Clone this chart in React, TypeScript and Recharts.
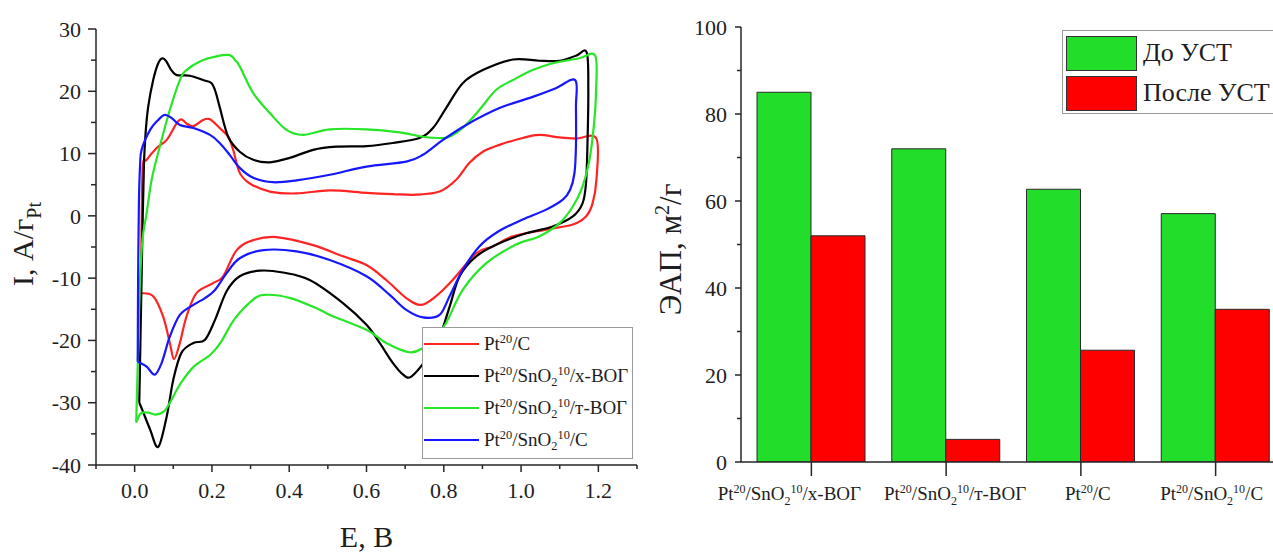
import React from 'react'
import { LineChart, Line, XAxis, YAxis, BarChart, Bar, Legend, Label } from 'recharts'

const FONT = '"Liberation Serif", "Times New Roman", serif'
const AXIS = '#262626'
const TEXT = '#1e1e1e'

// CV loops: [E, V ; I, A/g Pt], traced from the low-potential end, anodic then cathodic
const cvPtC = [
  [0.016, -12.4], [0.018, -2], [0.021, 7.9], [0.031, 9.0], [0.057, 10.9], [0.083, 12.2], [0.109, 14.9],
  [0.121, 15.5], [0.135, 14.8], [0.152, 14.4], [0.177, 15.4], [0.195, 15.5], [0.22, 14.1], [0.242, 12.7],
  [0.255, 10.6], [0.272, 6.9], [0.298, 5.2], [0.35, 3.9], [0.419, 3.6], [0.505, 4.1], [0.6, 3.7],
  [0.668, 3.5], [0.729, 3.4], [0.789, 3.9], [0.832, 5.8], [0.866, 8.5], [0.901, 10.3], [0.944, 11.4],
  [1.004, 12.5], [1.047, 13.0], [1.099, 12.6], [1.142, 12.4], [1.195, 12.4], [1.195, 5.8], [1.185, 2.0],
  [1.168, -0.1], [1.134, -1.4], [1.065, -2.2], [0.979, -3.3], [0.927, -4.9], [0.884, -6.0], [0.823, -10.3],
  [0.78, -12.9], [0.742, -14.3], [0.703, -13.2], [0.651, -10.3], [0.6, -7.9], [0.539, -6.5], [0.462, -4.7],
  [0.367, -3.4], [0.307, -3.9], [0.264, -5.5], [0.229, -9.7], [0.203, -10.8], [0.16, -12.4], [0.134, -16.2],
  [0.117, -20.4], [0.102, -23.0], [0.091, -20.4], [0.074, -16.2], [0.048, -12.9], [0.016, -12.4],
]

const cvXGO = [
  [0.012, -30], [0.015, -20], [0.018, -10], [0.021, 0], [0.024, 8], [0.028, 13], [0.035, 17.5], [0.048, 21.8],
  [0.061, 24.5], [0.072, 25.3], [0.082, 24.8], [0.095, 23.4], [0.109, 22.6], [0.143, 22.5], [0.177, 21.8],
  [0.199, 21.3], [0.21, 19.8], [0.22, 17.5], [0.242, 12.7], [0.272, 10.3], [0.307, 9.0], [0.35, 8.6],
  [0.401, 9.3], [0.462, 10.6], [0.522, 11.1], [0.6, 11.2], [0.668, 11.7], [0.737, 12.5], [0.772, 14.1],
  [0.806, 17.3], [0.849, 21.3], [0.901, 23.4], [0.979, 25.1], [1.047, 24.9], [1.099, 24.9], [1.142, 25.7],
  [1.17, 26.2], [1.174, 20], [1.172, 12], [1.168, 5.2], [1.159, 2.0], [1.134, -0.1], [1.082, -1.7],
  [1.013, -2.8], [0.944, -4.4], [0.884, -6.5], [0.841, -9.7], [0.815, -14.6], [0.789, -19.4], [0.754, -23.1],
  [0.716, -25.8], [0.695, -25.5], [0.668, -23.6], [0.634, -20.4], [0.6, -17.5], [0.539, -14.0], [0.453, -10.3],
  [0.384, -9.1], [0.324, -8.8], [0.272, -9.7], [0.238, -12.1], [0.208, -16.7], [0.182, -19.9], [0.152, -20.4],
  [0.121, -22.0], [0.1, -26.3], [0.083, -32.2], [0.061, -37.1], [0.04, -34.3], [0.022, -31.5], [0.012, -30],
]

const cvTGO = [
  [0.004, -33.2], [0.008, -24], [0.013, -12], [0.02, -4], [0.031, 0.4], [0.044, 5.8], [0.065, 11.1],
  [0.091, 17.0], [0.117, 21.8], [0.134, 23.4], [0.169, 24.8], [0.212, 25.6], [0.246, 25.8], [0.26, 25],
  [0.272, 24.0], [0.307, 19.7], [0.35, 16.5], [0.393, 13.8], [0.436, 13.0], [0.505, 13.9], [0.6, 13.9],
  [0.686, 13.4], [0.746, 12.7], [0.789, 12.5], [0.815, 12.7], [0.849, 14.1], [0.892, 17.0], [0.935, 20.2],
  [0.979, 21.8], [1.03, 23.4], [1.082, 24.5], [1.151, 25.3], [1.192, 25.7], [1.194, 20], [1.189, 14.9],
  [1.177, 9.0], [1.159, 4.7], [1.134, 1.5], [1.099, -1.2], [1.047, -3.3], [0.987, -4.6], [0.91, -7.6],
  [0.849, -11.9], [0.806, -17.2], [0.78, -19.4], [0.746, -21.2], [0.711, -21.9], [0.651, -20.4], [0.6, -18.3],
  [0.505, -15.9], [0.48, -15.1], [0.403, -13.2], [0.334, -12.7], [0.3, -13.8], [0.257, -16.7], [0.222, -20.4],
  [0.196, -22.3], [0.153, -24.2], [0.119, -26.9], [0.093, -29.8], [0.076, -31.4], [0.054, -31.9],
  [0.035, -31.6], [0.016, -31.7], [0.004, -33.2],
]

const cvSnC = [
  [0.008, -23.4], [0.009, -10], [0.011, 2], [0.014, 8], [0.018, 10.6], [0.04, 13.8], [0.061, 15.4],
  [0.078, 16.2], [0.096, 15.7], [0.117, 14.6], [0.152, 14.1], [0.195, 13.0], [0.22, 11.7], [0.246, 9.8],
  [0.272, 7.7], [0.307, 6.1], [0.358, 5.4], [0.419, 5.7], [0.505, 6.6], [0.6, 7.9], [0.703, 8.7],
  [0.746, 9.8], [0.798, 12.2], [0.858, 14.6], [0.944, 17.3], [1.03, 19.1], [1.09, 20.5], [1.14, 21.8],
  [1.142, 17.5], [1.142, 11.1], [1.138, 6.8], [1.127, 4.2], [1.108, 2.6], [1.065, 1.0], [1.004, -0.6],
  [0.944, -2.4], [0.892, -4.9], [0.849, -8.7], [0.815, -12.9], [0.789, -15.9], [0.746, -16.3], [0.703, -15.1],
  [0.66, -12.7], [0.6, -9.7], [0.505, -7.1], [0.419, -5.7], [0.333, -5.5], [0.272, -6.8], [0.238, -9.2],
  [0.208, -11.9], [0.182, -13.2], [0.152, -14.3], [0.117, -15.9], [0.091, -19.4], [0.07, -23.6],
  [0.052, -25.5], [0.031, -24.2], [0.008, -23.4],
]

const cvNames = ['Pt^{20}/C', 'Pt^{20}/SnO_{2}^{10}/х-ВОГ', 'Pt^{20}/SnO_{2}^{10}/т-ВОГ', 'Pt^{20}/SnO_{2}^{10}/C']
const cvColors = ['#ff2424', '#000000', '#27e627', '#1616ff']
const cvData = [cvPtC, cvXGO, cvTGO, cvSnC]

const eTicks = [-0.1, 0, 0.1, 0.2, 0.3, 0.4, 0.5, 0.6, 0.7, 0.8, 0.9, 1.0, 1.1, 1.2, 1.3]
const iTicks = [-40, -35, -30, -25, -20, -15, -10, -5, 0, 5, 10, 15, 20, 25, 30]

// ECSA bars
const catalysts = ['Pt^{20}/SnO_{2}^{10}/х-ВОГ', 'Pt^{20}/SnO_{2}^{10}/т-ВОГ', 'Pt^{20}/C', 'Pt^{20}/SnO_{2}^{10}/C']
const ecsaBefore = [85, 72, 62.7, 57.1]
const ecsaAfter = [52, 5.2, 25.7, 35.1]
const ecsaTicks = [0, 10, 20, 30, 40, 50, 60, 70, 80, 90, 100]
const ecsaNames = ['До УСТ', 'После УСТ']
const ecsaColors = ['#22dd2a', '#ff0000']

const barRows = catalysts.map((name, i) => ({ name, before: ecsaBefore[i], after: ecsaAfter[i] }))

// category labels were nudged by hand in the original figure
const catLabelShift = [-22, 9, 7, -4]

// "^{..}" superscript, "_{..}" subscript
type Seg = { t: string; k: 'n' | 'sup' | 'sub' }
const parseRich = (s: string): Seg[] => {
  const out: Seg[] = []
  const re = /([\^_])\{([^}]*)\}/g
  let last = 0
  let m: RegExpExecArray | null
  while ((m = re.exec(s))) {
    if (m.index > last) out.push({ t: s.slice(last, m.index), k: 'n' })
    out.push({ t: m[2], k: m[1] === '^' ? 'sup' : 'sub' })
    last = re.lastIndex
  }
  if (last < s.length) out.push({ t: s.slice(last), k: 'n' })
  return out
}

const richTspans = (text: string, size: number) => {
  let shift = 0
  return parseRich(text).map((s, i) => {
    const target = s.k === 'sup' ? -size * 0.38 : s.k === 'sub' ? size * 0.25 : 0
    const dy = target - shift
    shift = target
    return (
      <tspan key={i} dy={dy} fontSize={s.k === 'n' ? size : Math.round(size * 0.65)}>
        {s.t}
      </tspan>
    )
  })
}

const RichHtml = ({ text }: { text: string }) => (
  <span>
    {parseRich(text).map((s, i) =>
      s.k === 'n' ? (
        <span key={i}>{s.t}</span>
      ) : (
        <span
          key={i}
          style={{ fontSize: '0.65em', position: 'relative', top: s.k === 'sup' ? '-0.6em' : '0.35em' }}
        >
          {s.t}
        </span>
      ),
    )}
  </span>
)

// smooth curve through the points (Catmull-Rom), works for closed CV loops
const smooth = (ctx: any) => {
  let pts: number[][] = []
  return {
    areaStart() {},
    areaEnd() {},
    lineStart() {
      pts = []
    },
    point(x: number, y: number) {
      pts.push([+x, +y])
    },
    lineEnd() {
      const n = pts.length
      if (!n) return
      ctx.moveTo(pts[0][0], pts[0][1])
      for (let i = 0; i < n - 1; i++) {
        const a = pts[Math.max(i - 1, 0)]
        const b = pts[i]
        const c = pts[i + 1]
        const d = pts[Math.min(i + 2, n - 1)]
        ctx.bezierCurveTo(
          b[0] + (c[0] - a[0]) / 6, b[1] + (c[1] - a[1]) / 6,
          c[0] - (d[0] - b[0]) / 6, c[1] - (d[1] - b[1]) / 6,
          c[0], c[1],
        )
      }
    },
  }
}

const isMajorE = (v: number) => Math.round(v * 10) % 2 === 0
const isMajorI = (v: number) => v % 10 === 0

const ETick = (p: any) => {
  const v = p.payload.value
  const major = isMajorE(v)
  const len = major ? 7 : 4
  const top = p.side === 'top'
  return (
    <g>
      <line x1={p.x} y1={p.y} x2={p.x} y2={p.y + len} stroke={AXIS} strokeWidth={1.5} />
      {!top && major && (
        <text x={p.x} y={p.y + 33} textAnchor="middle" fontSize={22} fontFamily={FONT} fill={TEXT}>
          {v.toFixed(1)}
        </text>
      )}
    </g>
  )
}

const ITick = (p: any) => {
  const v = p.payload.value
  const major = isMajorI(v)
  const len = major ? 8 : 5
  const right = p.side === 'right'
  return (
    <g>
      <line x1={p.x} y1={p.y} x2={p.x - len} y2={p.y} stroke={AXIS} strokeWidth={1.5} />
      {!right && major && (
        <text x={p.x - 15} y={p.y} dy="0.35em" textAnchor="end" fontSize={22} fontFamily={FONT} fill={TEXT}>
          {v}
        </text>
      )}
    </g>
  )
}

const CvYLabel = (props: any) => {
  const vb = props.viewBox
  const x = vb.x + 33
  const y = vb.y + vb.height / 2 - 3
  return (
    <text x={x} y={y} transform={`rotate(-90, ${x}, ${y})`} textAnchor="middle" fontSize={30} fontFamily={FONT} fill={TEXT}>
      {richTspans('I, А/г_{Pt}', 30)}
    </text>
  )
}

const CvLegend = () => (
  <div style={{ border: '1px solid #9a9a9a', background: '#fff', padding: '0 2px 2px 1px', width: 206, fontFamily: FONT, fontSize: 19, color: TEXT }}>
    {cvNames.map((name, i) => (
      <div key={name} style={{ display: 'flex', alignItems: 'center', height: 32, whiteSpace: 'nowrap' }}>
        <div style={{ width: 55, height: 2.5, background: cvColors[i], marginRight: 5, flex: 'none' }} />
        <RichHtml text={name} />
      </div>
    ))}
  </div>
)

const CatTick = (p: any) => {
  const idx = catalysts.indexOf(String(p.payload.value))
  const x = p.x + (catLabelShift[idx] || 0)
  return (
    <g>
      <line x1={p.x} y1={p.y} x2={p.x} y2={p.y + 14} stroke={AXIS} strokeWidth={1.5} />
      <text x={x} y={p.y + 38} textAnchor="middle" fontSize={19} fontFamily={FONT} fill={TEXT}>
        {richTspans(String(p.payload.value), 19)}
      </text>
    </g>
  )
}

const EcsaTick = (p: any) => {
  const v = p.payload.value
  const major = v % 20 === 0
  return (
    <g>
      <line x1={p.x} y1={p.y} x2={p.x - (major ? 6 : 4)} y2={p.y} stroke={AXIS} strokeWidth={1.5} />
      {major && (
        <text x={p.x - 14} y={p.y} dy="0.35em" textAnchor="end" fontSize={22} fontFamily={FONT} fill={TEXT}>
          {v}
        </text>
      )}
    </g>
  )
}

const EcsaYLabel = (props: any) => {
  const vb = props.viewBox
  const x = vb.x + 41
  const y = vb.y + vb.height / 2 + 5
  return (
    <text x={x} y={y} transform={`rotate(-90, ${x}, ${y})`} textAnchor="middle" fontSize={31} fontFamily={FONT} fill={TEXT}>
      {richTspans('ЭАП, м^{2}/г', 31)}
    </text>
  )
}

const EcsaLegend = () => (
  <div style={{ border: '1px solid #9a9a9a', background: '#fff', padding: '2px 3px 0', width: 260, fontFamily: FONT, fontSize: 26, color: TEXT }}>
    {ecsaNames.map((name, i) => (
      <div key={name} style={{ display: 'flex', alignItems: 'center', height: 40, whiteSpace: 'nowrap' }}>
        <div style={{ width: 69, height: 33, background: ecsaColors[i], border: '1px solid #333', marginRight: 6, flex: 'none' }} />
        <span>{name}</span>
      </div>
    ))}
  </div>
)

const axisLine = { stroke: AXIS, strokeWidth: 1.5 }

export default function App() {
  return (
    <div style={{ position: 'absolute', left: 0, top: 0, width: 1273, height: 552, overflow: 'hidden', background: '#fff' }}>
      <div style={{ position: 'absolute', left: 0, top: 0 }}>
        <LineChart width={660} height={552} margin={{ top: 29, right: 23, bottom: 0, left: 0 }}>
          <XAxis
            xAxisId="b" type="number" dataKey="E" domain={[-0.1, 1.3]} allowDataOverflow ticks={eTicks} interval={0}
            height={87} tickSize={0} tickMargin={0} tickLine={false} axisLine={axisLine}
            tick={(p: any) => <ETick {...p} side="bottom" />}
          >
            <Label value="E, В" position="insideBottom" offset={5} fontSize={30} fontFamily={FONT} fill={TEXT} />
          </XAxis>
          <XAxis
            xAxisId="t" orientation="top" mirror type="number" domain={[-0.1, 1.3]} allowDataOverflow ticks={eTicks}
            interval={0} height={0} tickSize={0} tickMargin={0} tickLine={false} axisLine={axisLine}
            tick={(p: any) => <ETick {...p} side="top" />}
          />
          <YAxis
            yAxisId="l" type="number" domain={[-40, 30]} allowDataOverflow ticks={iTicks} interval={0}
            width={96} tickSize={0} tickMargin={0} tickLine={false} axisLine={axisLine}
            tick={(p: any) => <ITick {...p} side="left" />}
          >
            <Label content={CvYLabel} />
          </YAxis>
          <YAxis
            yAxisId="r" orientation="right" mirror type="number" domain={[-40, 30]} allowDataOverflow ticks={iTicks}
            interval={0} width={0} tickSize={0} tickMargin={0} tickLine={false} axisLine={axisLine}
            tick={(p: any) => <ITick {...p} side="right" />}
          />
          {cvData.map((d, i) => (
            <Line
              key={cvNames[i]}
              xAxisId="b"
              yAxisId="l"
              data={d.map(([E, I]) => ({ E, I }))}
              dataKey="I"
              name={cvNames[i]}
              stroke={cvColors[i]}
              strokeWidth={2.2}
              type={smooth as any}
              dot={false}
              activeDot={false}
              isAnimationActive={false}
            />
          ))}
          <Legend
            layout="vertical"
            verticalAlign="middle"
            align="center"
            content={CvLegend}
            wrapperStyle={{ position: 'absolute', left: 422, top: 327, width: 'auto', height: 'auto' }}
          />
        </LineChart>
      </div>

      <div style={{ position: 'absolute', left: 640, top: 0 }}>
        <BarChart width={648} height={552} data={barRows} margin={{ top: 27, right: 5, bottom: 0, left: 0 }} barGap={0} barSize={54}>
          <XAxis
            dataKey="name" padding={{ left: 3, right: 0 }} height={90} interval={0}
            tickSize={0} tickMargin={0} tickLine={false} axisLine={axisLine} tick={CatTick}
          />
          <XAxis xAxisId="top" orientation="top" mirror dataKey="name" height={0} tick={false} tickLine={false} axisLine={axisLine} />
          <YAxis
            type="number" domain={[0, 100]} allowDataOverflow ticks={ecsaTicks} interval={0}
            width={101} tickSize={0} tickMargin={0} tickLine={false} axisLine={axisLine} tick={EcsaTick}
          >
            <Label content={EcsaYLabel} />
          </YAxis>
          <Bar dataKey="before" name={ecsaNames[0]} fill={ecsaColors[0]} stroke="#2a2a2a" strokeWidth={1} isAnimationActive={false} />
          <Bar dataKey="after" name={ecsaNames[1]} fill={ecsaColors[1]} stroke="#2a2a2a" strokeWidth={1} isAnimationActive={false} />
          <Legend
            layout="vertical"
            verticalAlign="middle"
            align="center"
            content={EcsaLegend}
            wrapperStyle={{ position: 'absolute', left: 422, top: 30, width: 'auto', height: 'auto' }}
          />
        </BarChart>
      </div>
    </div>
  )
}
